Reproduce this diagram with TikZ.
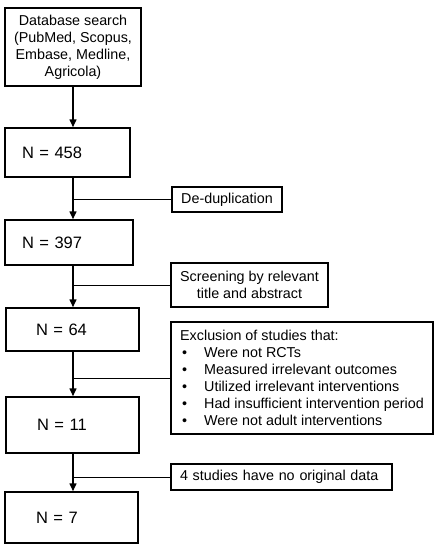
\documentclass[tikz,border=0pt]{standalone}
\usepackage{fontspec}
\setmainfont{Liberation Sans}
\usetikzlibrary{arrows.meta}
\newcommand\itm{\makebox[14.4pt][l]{\hspace{1.2pt}\textbullet}}

\begin{document}
\begin{tikzpicture}[x = 0.6pt, y = -0.6pt,
	box/.style = {draw, line width=0.9pt, inner sep=0pt, font=\fontsize{8.6}{10.2}\selectfont, align=center},
	nbox/.style = {draw, line width=0.9pt, inner ysep=0pt, font=\fontsize{9.9}{11.9}\selectfont, align=left},
	flow/.style = {line width=0.9pt, -{Triangle[length=4.8pt, width=4.2pt]}},
	side/.style = {line width=0.5pt}]
	\useasboundingbox (0,0) rectangle (441,550);
	\node[box, minimum width=81.6pt, minimum height=46.8pt] (db) at (73,47) {Database search\\(PubMed, Scopus,\\Embase, Medline,\\Agricola)};
	\node[nbox, minimum height=29.4pt, inner xsep=10.2pt, text width=54.6pt] (n458) at (67.5,152.5) {N = 458};
	\node[nbox, minimum height=27pt, inner xsep=10.2pt, text width=56.4pt] (n397) at (69,242.5) {N = 397};
	\node[nbox, minimum height=25.8pt, inner xsep=18pt, text width=43.8pt] (n64) at (72.5,329.5) {N = 64};
	\node[nbox, minimum height=33.6pt, inner xsep=18.6pt, text width=42.6pt] (n11) at (72.5,425) {N = 11};
	\node[nbox, minimum height=30.6pt, inner xsep=18.6pt, text width=42.6pt] (n7) at (71.5,517.5) {N = 7};
	
	\node[box, minimum width=66pt, minimum height=15pt] (dedup) at (227,199.5) {De-duplication};
	\node[box, minimum width=94.2pt, minimum height=26.4pt] (screen) at (249.5,285) {Screening by relevant\\title and abstract};
	\node[box, align=left, minimum width=157.2pt, minimum height=67.2pt] (excl) at (302,378) {Exclusion of studies that:\\
		\itm Were not RCTs\\
		\itm Measured irrelevant outcomes\\
		\itm Utilized irrelevant interventions\\
		\itm Had insufficient intervention period\\
		\itm Were not adult interventions};
	\node[box, align=left, inner xsep=5.4pt, text width=121.8pt, minimum height=15.6pt] (nodata) at (281.5,477) {4 studies have no original data};
	
	\draw[flow] (db.south) -- (db.south |- n458.north);
	\draw[flow] (db.south |- n458.south) -- (db.south |- n397.north);
	\draw[flow] (db.south |- n397.south) -- (db.south |- n64.north);
	\draw[flow] (db.south |- n64.south) -- (db.south |- n11.north);
	\draw[flow] (db.south |- n11.south) -- (db.south |- n7.north);
	
	\draw[side] (dedup.west) -- (dedup.west -| db.south);
	\draw[side] (screen.west) -- (screen.west -| db.south);
	\draw[side] (excl.west) -- (excl.west -| db.south);
	\draw[side] (nodata.west) -- (nodata.west -| db.south);
\end{tikzpicture}
\end{document}
